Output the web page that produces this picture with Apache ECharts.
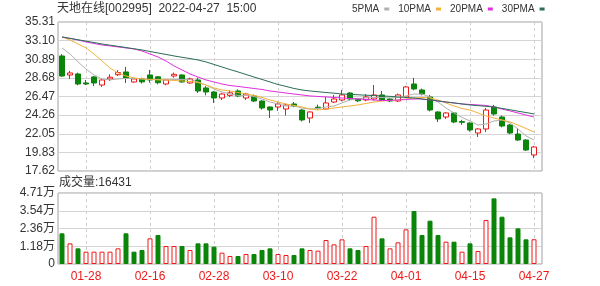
<!DOCTYPE html>
<html>
<head>
<meta charset="utf-8">
<script src="https://cdn.jsdelivr.net/npm/echarts@6.0.0/dist/echarts.min.js"></script>
<style>
html,body{margin:0;padding:0;background:#fff;}
#chart{width:600px;height:286px;}
</style>
</head>
<body>
<div id="chart"></div>
<script>
const titleText = '天地在线[002995]  2022-04-27  15:00';
const volTitle = '成交量:16431';
const dates = ['01-25','01-26','01-27','01-28','02-07','02-08','02-09','02-10','02-11','02-14',
  '02-15','02-16','02-17','02-18','02-21','02-22','02-23','02-24','02-25','02-28',
  '03-01','03-02','03-03','03-04','03-07','03-08','03-09','03-10','03-11','03-14',
  '03-15','03-16','03-17','03-18','03-21','03-22','03-23','03-24','03-25','03-28',
  '03-29','03-30','03-31','04-01','04-06','04-07','04-08','04-11','04-12','04-13',
  '04-14','04-15','04-18','04-19','04-20','04-21','04-22','04-25','04-26','04-27'];
const openP = [31.28,29.02,29.14,28.07,28.79,27.83,28.55,29.05,29.38,28.19,
  28.55,29.02,28.80,27.95,28.90,29.02,28.07,28.43,27.48,27.00,
  26.29,26.60,27.12,26.29,26.53,25.93,25.22,25.22,24.98,25.58,
  24.86,23.91,25.20,24.98,25.81,26.05,26.88,26.20,26.05,26.17,
  26.65,26.17,25.93,26.41,27.95,27.24,26.41,24.63,24.03,24.51,
  23.50,23.32,22.13,22.61,25.22,24.03,23.08,22.01,21.30,19.52];
const closeP = [28.90,29.26,27.95,27.95,28.07,28.43,28.75,29.30,28.67,28.55,
  28.20,28.43,28.10,28.43,29.10,28.19,28.55,27.12,27.00,26.29,
  26.76,26.90,26.53,26.76,25.93,25.10,24.86,25.58,25.46,25.34,
  23.68,24.63,25.10,25.70,26.17,26.65,26.17,25.95,26.41,26.65,
  26.05,25.93,26.65,27.60,27.36,26.76,24.86,23.80,24.51,23.44,
  23.40,22.49,22.61,24.86,24.39,22.96,22.13,21.30,20.11,20.47];
const lowP = [28.80,28.55,27.80,27.83,27.70,27.60,28.30,28.90,28.07,28.10,
  28.00,28.10,27.90,27.80,28.70,28.10,28.00,26.88,26.60,25.70,
  26.05,26.40,26.40,26.05,25.80,24.90,23.91,24.75,24.20,25.20,
  23.50,23.32,24.90,24.90,25.70,25.90,26.00,25.80,25.90,26.00,
  25.90,25.80,25.80,26.30,27.20,26.60,24.70,23.44,23.80,23.30,
  23.10,22.30,21.66,22.25,24.20,22.80,22.00,21.20,20.00,19.16];
const highP = [31.50,29.50,29.30,28.43,28.90,28.50,29.10,29.60,29.97,28.70,
  28.70,29.62,28.90,28.50,29.30,29.10,28.70,28.70,27.70,27.10,
  26.90,27.20,27.30,26.90,26.70,26.00,25.30,25.80,25.60,25.81,
  25.00,24.70,25.50,26.41,26.65,27.24,27.00,26.30,26.76,27.83,
  27.12,26.30,26.80,27.70,28.67,27.40,26.65,24.70,24.60,24.60,
  23.70,23.40,22.70,25.10,25.46,24.20,23.20,22.73,21.40,20.60];
const ma5 = [32.23,31.52,30.57,29.73,29.02,28.55,28.43,28.55,28.61,28.61,
  28.55,28.49,28.49,28.43,28.49,28.49,28.49,28.19,27.83,27.36,
  27.00,26.76,26.59,26.59,26.47,26.17,25.81,25.58,25.34,25.34,
  25.10,24.98,25.04,25.22,25.34,25.70,26.05,26.23,26.29,26.35,
  26.35,26.29,26.35,26.53,26.76,26.76,26.41,25.81,25.10,24.51,
  23.97,23.56,23.08,23.20,23.56,23.68,23.32,22.61,21.78,21.30];
const ma10 = [33.53,33.18,32.70,32.23,31.52,30.68,29.85,29.26,28.90,28.67,
  28.55,28.49,28.43,28.43,28.37,28.31,28.25,28.13,27.83,27.48,
  27.24,27.12,26.94,26.76,26.59,26.35,26.05,25.81,25.58,25.40,
  25.22,24.98,24.86,24.98,25.10,25.22,25.34,25.46,25.64,25.81,
  25.93,25.99,26.05,26.17,26.29,26.35,26.29,26.05,25.70,25.34,
  25.04,24.86,24.51,24.15,23.91,23.68,23.44,23.08,22.67,22.25];
const ma20 = [33.53,33.36,33.18,32.94,32.76,32.58,32.47,32.35,32.23,32.11,
  31.87,31.52,31.16,30.68,30.09,29.62,29.14,28.78,28.43,28.19,
  27.95,27.77,27.66,27.54,27.42,27.30,27.12,27.00,26.88,26.76,
  26.65,26.53,26.47,26.41,26.35,26.29,26.23,26.17,26.11,26.05,
  25.99,25.99,26.05,26.11,26.17,26.17,26.05,25.93,25.81,25.70,
  25.58,25.52,25.46,25.40,25.22,24.98,24.75,24.51,24.27,24.03];
const ma30 = [33.53,33.37,33.20,33.04,32.87,32.70,32.56,32.42,32.28,32.13,
  31.99,31.81,31.63,31.46,31.28,31.12,30.97,30.80,30.57,30.27,
  29.97,29.67,29.38,29.08,28.78,28.49,28.19,27.89,27.66,27.42,
  27.24,27.12,27.03,26.94,26.86,26.76,26.72,26.67,26.62,26.57,
  26.53,26.48,26.41,26.35,26.29,26.17,26.05,25.93,25.81,25.70,
  25.58,25.46,25.38,25.30,25.22,25.05,24.89,24.72,24.56,24.39];
const volumes = [20360,13710,10390,8180,8180,8180,8180,10390,20360,8180,
  9290,17030,19240,11940,11940,11940,9290,13710,13710,11500,
  7520,5310,5310,6630,6630,9290,10390,6630,5970,5970,
  10390,9290,8850,15920,13050,16360,10390,9290,11940,31400,
  17030,10390,14380,23000,35160,19240,28750,19240,14820,14820,
  8180,13710,8620,29190,43570,31400,17690,23660,16360,16431];
const volUp = [0,1,0,1,1,1,1,1,0,0,
  0,1,0,1,1,0,1,0,0,0,
  1,1,0,1,0,0,0,1,1,0,
  0,1,1,1,1,1,0,0,1,1,
  0,1,1,1,0,0,0,0,1,0,
  1,0,1,1,0,0,0,0,0,1];
const priceTicks = ['17.62','19.83','22.05','24.26','26.47','28.68','30.89','33.10','35.31'];
const volTicks = ['0','1.18万','2.36万','3.54万','4.71万'];
const priceMin = 17.62, priceMax = 35.31, volMax = 47140;
const maNames = ['5PMA','10PMA','20PMA','30PMA'];

const RED = '#f01818', GREEN = '#0a850a';
const maColors = ['#b0b0b0','#f2b23a','#e02ee0','#2b6e57'];
const FONT = "'Liberation Sans','Noto Sans CJK SC',sans-serif";

const chart = echarts.init(document.getElementById('chart'), null, {renderer:'canvas'});
const candleData = dates.map((d,i)=>[openP[i],closeP[i],lowP[i],highP[i]]);
const volData = volumes.map((v,i)=>({
  value: v,
  itemStyle: volUp[i] ? {color:'#fff', borderColor:RED, borderWidth:1} : {color:GREEN, borderColor:GREEN, borderWidth:1}
}));
const showIdx = (idx) => idx % 8 === 3;
const frameGrid = {show:true, borderColor:'#a0a0a0', borderWidth:1, backgroundColor:'transparent'};

const option = {
  animation:false,
  backgroundColor:'#fff',
  title:[
    {text:titleText, left:57, top:3, padding:0, textStyle:{fontSize:12, fontWeight:'normal', color:'#333', fontFamily:FONT}},
    {text:volTitle, left:59, top:177, padding:0, textStyle:{fontSize:12, fontWeight:'normal', color:'#333', fontFamily:FONT}}
  ],
  legend:{
    data:maNames, left:352, top:4, padding:0, align:'right', icon:'rect',
    itemWidth:5, itemHeight:3, itemGap:9,
    textStyle:{fontSize:10, color:'#333', fontFamily:FONT, padding:[0,0,0,0]}
  },
  grid:[
    Object.assign({left:58, top:22, width:484, height:149}, frameGrid),
    {left:62, top:22, width:472, height:149, show:false},
    Object.assign({left:58, top:193, width:484, height:71}, frameGrid),
    {left:62, top:193, width:472, height:71, show:false}
  ],
  xAxis:[
    {gridIndex:0, type:'value', min:0, max:1, show:false},
    {gridIndex:1, type:'category', data:dates, boundaryGap:false,
      axisLine:{show:false}, axisTick:{show:false}, axisLabel:{show:false},
      splitLine:{show:true, interval:(i)=>showIdx(i), lineStyle:{color:'#cfcfcf', type:[3,3]}}},
    {gridIndex:2, type:'value', min:0, max:1, show:false},
    {gridIndex:3, type:'category', data:dates, boundaryGap:false,
      axisLine:{show:false}, axisTick:{show:false},
      axisLabel:{show:true, interval:(i)=>showIdx(i), color:RED, fontSize:12, margin:7, fontFamily:FONT},
      splitLine:{show:true, interval:(i)=>showIdx(i), lineStyle:{color:'#cfcfcf', type:[3,3]}}}
  ],
  yAxis:[
    {gridIndex:0, type:'value', min:0, max:8, interval:1,
      axisLine:{show:false}, axisTick:{show:false},
      axisLabel:{formatter:(v)=>priceTicks[Math.round(v)], color:'#333', fontSize:12, margin:3, fontFamily:FONT},
      splitLine:{show:true, lineStyle:{color:'#d4d4d4', width:1}}},
    {gridIndex:1, type:'value', min:priceMin, max:priceMax, show:false, splitLine:{show:false}},
    {gridIndex:2, type:'value', min:0, max:4, interval:1,
      axisLine:{show:false}, axisTick:{show:false},
      axisLabel:{formatter:(v)=>volTicks[Math.round(v)], color:'#333', fontSize:12, margin:3, fontFamily:FONT},
      splitLine:{show:true, lineStyle:{color:'#d4d4d4', width:1}}},
    {gridIndex:3, type:'value', min:0, max:volMax, show:false, splitLine:{show:false}}
  ],
  series:[
    {type:'candlestick', xAxisIndex:1, yAxisIndex:1, data:candleData, barWidth:5, clip:false,
      itemStyle:{color:'#fff', color0:GREEN, borderColor:RED, borderColor0:GREEN, borderWidth:1}},
    ...maNames.map((n,k)=>({
      name:n, type:'line', xAxisIndex:1, yAxisIndex:1,
      data:[ma5,ma10,ma20,ma30][k], showSymbol:false, symbol:'none', smooth:false, clip:false,
      lineStyle:{color:maColors[k], width:1}, itemStyle:{color:maColors[k]}
    })),
    {type:'bar', xAxisIndex:3, yAxisIndex:3, data:volData, barWidth:5, clip:false}
  ]
};
chart.setOption(option);
</script>
</body>
</html>
